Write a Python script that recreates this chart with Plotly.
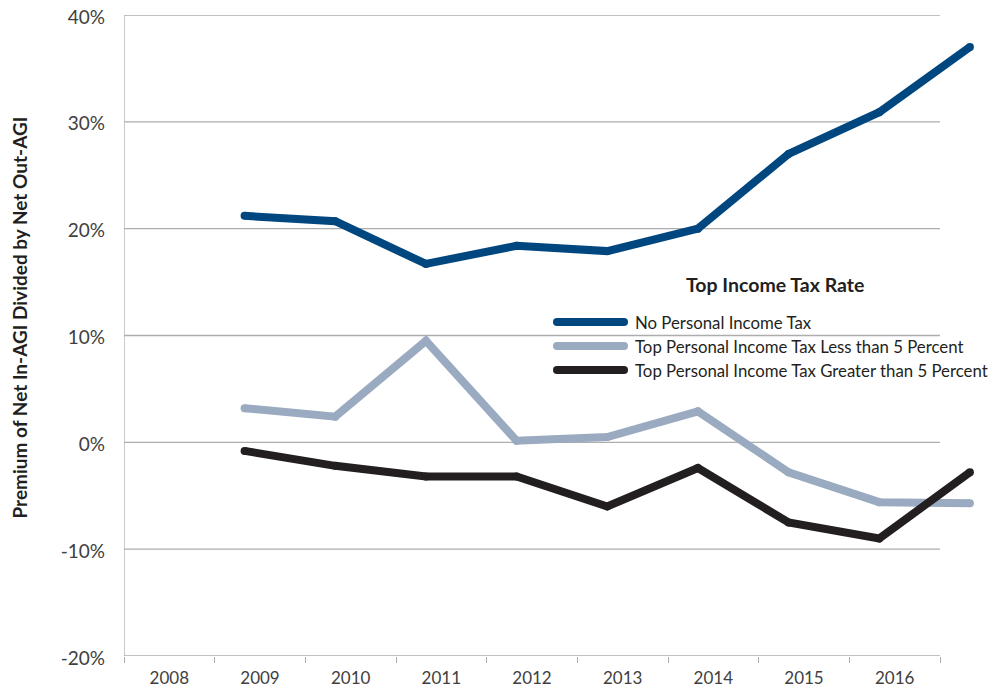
import plotly.graph_objects as go

# ---- data ----
axis_years = [2008, 2009, 2010, 2011, 2012, 2013, 2014, 2015, 2016]
year_labels = ["2008", "2009", "2010", "2011", "2012", "2013", "2014", "2015", "2016"]
data_years = [2009, 2010, 2011, 2012, 2013, 2014, 2015, 2016, 2017]
no_tax = [21.2, 20.7, 16.7, 18.4, 17.9, 20.0, 27.0, 30.9, 37.0]
less_5 = [3.2, 2.4, 9.5, 0.15, 0.5, 2.9, -2.8, -5.6, -5.7]
greater_5 = [-0.8, -2.2, -3.2, -3.2, -6.0, -2.4, -7.5, -9.0, -2.8]
series_names = [
    "No Personal Income Tax",
    "Top Personal Income Tax Less than 5 Percent",
    "Top Personal Income Tax Greater than 5 Percent",
]
y_ticks = [-20, -10, 0, 10, 20, 30, 40]
y_tick_labels = ["-20%", "-10%", "0%", "10%", "20%", "30%", "40%"]
y_title = "Premium of Net In-AGI Divided by Net Out-AGI"
legend_title = "Top Income Tax Rate"

# ---- style ----
colors = ["#00467F", "#9AAAC0", "#231F20"]
point_offset = 0.33          # position of each observation within its year band
line_w = 8
grid_color = "#ADADAD"
font_family = "Lato, 'Open Sans', sans-serif"

OFF = 8                      # page body margin of the browser
W, H = 1000 - OFF, 690 - OFF
plot_l, plot_t, plot_b = 124 - OFF, 15 - OFF, 656 - OFF
band_px = (940 - 124) / 9
pw = 857
ph = plot_b - plot_t
ml, mt = plot_l, plot_t
mr = W - ml - pw
mb = H - plot_b


def px(xp):
    return (xp - OFF - ml) / pw


def py(yp):
    return (plot_b - (yp - OFF)) / ph


fig = go.Figure()
for name, vals, col in zip(series_names, [no_tax, less_5, greater_5], colors):
    fig.add_trace(go.Scatter(
        x=[y + point_offset for y in data_years], y=vals, name=name,
        mode="lines+markers",
        line=dict(color=col, width=line_w),
        marker=dict(color=col, size=line_w),
        cliponaxis=False, showlegend=False,
    ))

x_start = axis_years[0]
x_end = axis_years[-1] + 1
shapes = []
for t in y_ticks:
    shapes.append(dict(type="line", xref="x", yref="y", x0=x_start, x1=x_end, y0=t, y1=t,
                       line=dict(color=grid_color, width=1.3), layer="below"))
shapes.append(dict(type="line", xref="x", yref="y", x0=x_start, x1=x_start,
                   y0=y_ticks[0], y1=y_ticks[-1], line=dict(color=grid_color, width=1.3), layer="below"))

annotations = [
    dict(x=px(775), y=py(284), xref="paper", yref="paper", text="<b>%s</b>" % legend_title,
         showarrow=False, xanchor="center", yanchor="middle",
         font=dict(size=19.5, color="#231F20", family=font_family)),
    dict(x=px(18.5), y=py(318), xref="paper", yref="paper", text="<b>%s</b>" % y_title,
         textangle=-90, showarrow=False, xanchor="center", yanchor="middle",
         font=dict(size=19, color="#231F20", family=font_family)),
]
item_y = [322, 346, 370]
for name, col, yy in zip(series_names, colors, item_y):
    shapes.append(dict(type="line", xref="paper", yref="paper", xsizemode="pixel", ysizemode="pixel",
                       xanchor=px(557), yanchor=py(yy), x0=0, x1=67, y0=0, y1=0,
                       line=dict(color=col, width=line_w)))
    for cx in (0, 67):
        shapes.append(dict(type="circle", xref="paper", yref="paper", xsizemode="pixel", ysizemode="pixel",
                           xanchor=px(557), yanchor=py(yy), x0=cx - 4, x1=cx + 4, y0=-4, y1=4,
                           fillcolor=col, line=dict(width=0)))
    annotations.append(dict(x=px(633), y=py(yy), xref="paper", yref="paper", text=name,
                            showarrow=False, xanchor="left", yanchor="middle",
                            font=dict(size=16.8, color="#231F20", family=font_family)))

fig.update_layout(
    width=W, height=H,
    margin=dict(l=ml, r=mr, t=mt, b=mb, autoexpand=False),
    paper_bgcolor="white", plot_bgcolor="white",
    font=dict(family=font_family, color="#404040"),
    shapes=shapes, annotations=annotations,
    xaxis=dict(
        range=[x_start, x_start + pw / band_px],
        tickmode="array", tickvals=[y + 0.5 for y in axis_years], ticktext=year_labels,
        ticks="", showgrid=False, zeroline=False, showline=False, automargin=False,
        tickfont=dict(size=17, color="#404040"), ticklabelstandoff=10,
        ticklabeloverflow="allow",
        minor=dict(tickmode="array", tickvals=axis_years + [x_end], ticks="outside",
                   ticklen=6, tickcolor=grid_color, tickwidth=1.3, showgrid=False),
        fixedrange=True,
    ),
    yaxis=dict(
        range=[y_ticks[0], y_ticks[-1]],
        tickmode="array", tickvals=y_ticks, ticktext=y_tick_labels,
        showgrid=False, zeroline=False, showline=False, ticks="", automargin=False,
        tickfont=dict(size=19, color="#404040"), ticklabelstandoff=18,
        ticklabelshift=2, ticklabeloverflow="allow",
        fixedrange=True,
    ),
)

fig.write_html("out.html")
